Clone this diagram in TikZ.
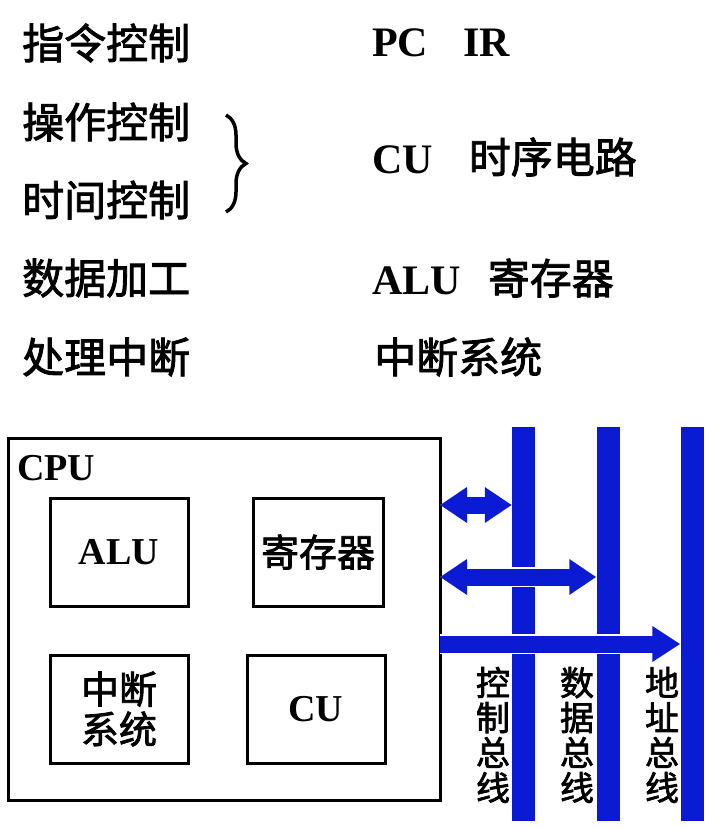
\documentclass[tikz,border=0pt]{standalone}
\usepackage{fontspec}
\setmainfont{Liberation Serif}
\newfontfamily\cjk[FakeBold=2]{Noto Sans CJK SC}
\usetikzlibrary{arrows.meta, decorations.pathreplacing}
\definecolor{busblue}{RGB}{11,27,212}
\tikzset{
  toptext/.style={anchor=west, inner sep=0pt, font={\fontsize{42}{50}\selectfont}},
  unit/.style={draw, line width=3pt, minimum width=138pt, minimum height=108pt,
    inner sep=0pt, align=center, font={\fontsize{38}{44}\selectfont}},
  bus/.style={fill=busblue, minimum width=23pt, minimum height=394pt, inner sep=0pt},
  buslabel/.style={inner sep=0pt, align=center, font={\cjk\fontsize{34}{35}\selectfont}},
  flow/.style={busblue, line width=17pt,
    preaction={draw=white, line width=20pt}},
  tip/.style={-{Triangle[length=28pt,width=34pt]}},
  both/.style={{Triangle[length=27pt,width=34pt]}-{Triangle[length=27pt,width=34pt]}},
}

\begin{document}
\begin{tikzpicture}[x=1pt,y=-1pt]
		\useasboundingbox (0,0) rectangle (710,828);

		% functions
		\node[toptext] (f1) at (22,43) {\cjk 指令控制};
		\node[toptext] (f2) at (22,122) {\cjk 操作控制};
		\node[toptext] (f3) at (22,200) {\cjk 时间控制};
		\node[toptext] (f4) at (22,278) {\cjk 数据加工};
		\node[toptext] (f5) at (22,357) {\cjk 处理中断};
		\draw[line width=3.5pt, decorate, decoration={brace, amplitude=20pt}]
		(226,115) -- (226,212);

		% parts
		\node[toptext] (p1) at (372,43) {\bfseries PC\hspace{35pt}IR};
		\node[toptext] (p2) at (372,157) {\bfseries CU\hspace{36pt}{\cjk\mdseries 时序电路}};
		\node[toptext] (p3) at (372,278) {\bfseries ALU\hspace{27pt}{\cjk\mdseries 寄存器}};
		\node[toptext] (p4) at (374,357) {\cjk 中断系统};

		% cpu
		\node[draw, line width=3pt, minimum width=432pt, minimum height=362pt] (cpu) at (224,619) {};
		\node[anchor=west, inner sep=0pt, font={\fontsize{38}{44}\selectfont\bfseries}] (cputext) at (17,468) {CPU};
		\node[unit] (alu) at (119,552) {\bfseries ALU};
		\node[unit, minimum width=130pt] (reg) at (318,552) {\cjk 寄存器};
		\node[unit] (irq) at (119,709) {\cjk 中断\\[-4pt]\cjk 系统};
		\node[unit] (cu) at (316,709) {\bfseries CU};

		% buses
		\node[bus] (ctrl) at (523.5,624) {};
		\node[bus] (data) at (608,624) {};
		\node[bus] (addr) at (692,624) {};
		\node[buslabel] (ctrltext) at (493,735) {控\\制\\总\\线};
		\node[buslabel] (datatext) at (577,735) {数\\据\\总\\线};
		\node[buslabel] (addrtext) at (662,735) {地\\址\\总\\线};

		% transfers
		\coordinate (c1) at (440,505);
		\coordinate (c2) at (440,577);
		\coordinate (c3) at (440,644);
		\draw[flow, both] (c1) -- (ctrl.west |- c1);
		\draw[flow, both] (c2) -- (data.west |- c2);
		\draw[flow, tip] (c3) -- (addr.west |- c3);
	\end{tikzpicture}
\end{document}
